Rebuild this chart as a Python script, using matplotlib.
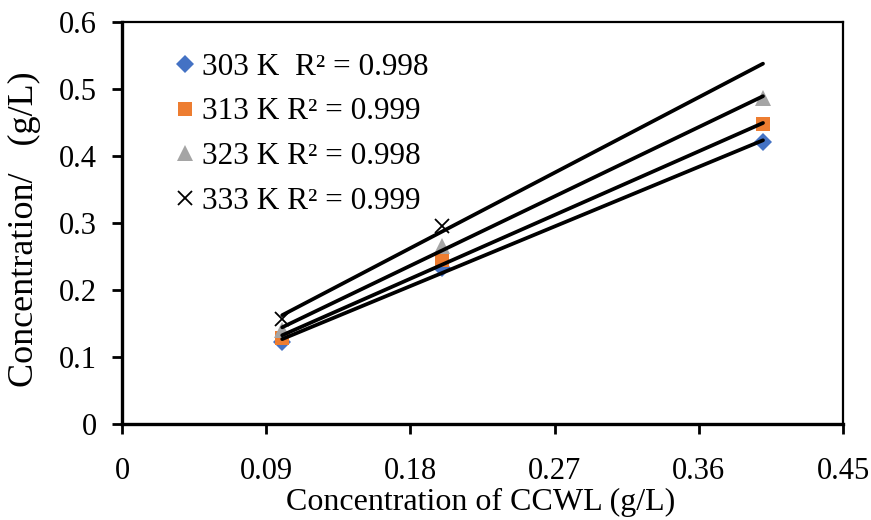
import numpy as np
import matplotlib.pyplot as plt

plt.rcParams['font.family'] = ['Liberation Serif', 'DejaVu Serif']

# data
conc = [0.1, 0.2, 0.4]
temps = ["303 K", "313 K", "323 K", "333 K"]
r2_labels = ["303 K  R\u00b2 = 0.998", "313 K R\u00b2 = 0.999",
             "323 K R\u00b2 = 0.998", "333 K R\u00b2 = 0.999"]
y303 = [0.122, 0.232, 0.421]
y313 = [0.128, 0.244, 0.447]
y323 = [0.140, 0.265, 0.487]
y333 = [0.157, 0.295, 0.535]

series = [y303, y313, y323, y333]
markers = ["D", "s", "^", "x"]
colors = ["#4472C4", "#ED7D31", "#A5A5A5", "black"]
sizes = [9.5, 10.5, 11, 10]
# last 333 K marker sits under the trend line end in the original
shown = [None, None, None, [0, 1]]

fig = plt.figure(figsize=(8.71, 5.2), dpi=100)
ax = fig.add_axes([0.140, 0.185, 0.828, 0.773])

x = np.array(conc)
for ys, m, c, s, lab, ev in zip(series, markers, colors, sizes, r2_labels, shown):
    ax.plot(x, ys, linestyle="none", marker=m, color=c, markersize=s,
            markeredgewidth=1.3 if m == "x" else 0, markevery=ev,
            label=lab, zorder=2)
    # linear trendline
    k, b = np.polyfit(x, ys, 1)
    ax.plot(x[[0, -1]], k * x[[0, -1]] + b, color="black", lw=2.7,
            solid_capstyle="round", zorder=3)

ax.set_xlim(0, 0.45)
ax.set_ylim(0, 0.6)
ax.set_xticks([0, 0.09, 0.18, 0.27, 0.36, 0.45])
ax.set_xticklabels(["0", "0.09", "0.18", "0.27", "0.36", "0.45"])
ax.set_yticks(np.arange(0, 0.61, 0.1))
ax.set_yticklabels(["0", "0.1", "0.2", "0.3", "0.4", "0.5", "0.6"])
ax.tick_params(axis="both", direction="out", length=7, width=2, labelsize=22)
ax.tick_params(axis="x", pad=17)
ax.tick_params(axis="y", pad=11)

for side in ["left", "bottom"]:
    ax.spines[side].set_linewidth(2.4)
for side in ["top", "right"]:
    ax.spines[side].set_linewidth(1.6)

ax.set_xlabel("Concentration of CCWL (g/L)", fontsize=23, va="center")
ax.xaxis.set_label_coords(0.498, -0.196)
ax.set_ylabel("Concentration/   (g/L)", fontsize=26, va="center")
ax.yaxis.set_label_coords(-0.135, 0.485)

leg = ax.legend(loc="upper left", bbox_to_anchor=(0.0485, 0.954), frameon=False,
                fontsize=22.5, handletextpad=0.05, handlelength=1.0,
                labelspacing=0.5, borderaxespad=0)

fig.savefig("out.png", dpi=100)
